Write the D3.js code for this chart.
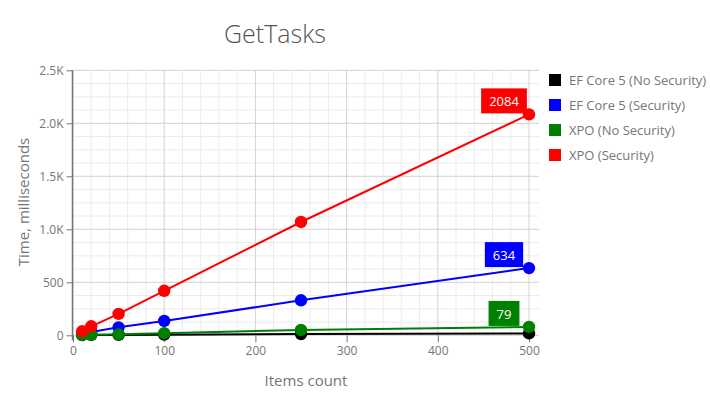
<!DOCTYPE html>
<html><head><meta charset="utf-8">
<script src="https://cdn.jsdelivr.net/npm/d3@7"></script>
<style>
body{margin:0;background:#fff;}
text{font-family:"Segoe UI","Open Sans",sans-serif;}
</style></head>
<body><svg id="c" width="710" height="420"></svg>
<script>
const itemCounts = [10, 20, 50, 100, 250, 500];
const seriesNames = ["EF Core 5 (No Security)", "EF Core 5 (Security)", "XPO (No Security)", "XPO (Security)"];
const seriesColors = ["#000000", "#0000ff", "#008000", "#ff0000"];
const efNoSec = [2, 3, 4, 6, 12, 18];
const efSec = [18, 32, 75, 135, 330, 634];
const xpoNoSec = [3, 5, 9, 20, 50, 79];
const xpoSec = [38, 85, 202, 420, 1069, 2084];
const seriesValues = [efNoSec, efSec, xpoNoSec, xpoSec];
const labeledValues = [null, 634, 79, 2084];
const xTicks = [0, 100, 200, 300, 400, 500];
const yTicks = [0, 500, 1000, 1500, 2000, 2500];
const yTickLabels = ["0", "500", "1.0K", "1.5K", "2.0K", "2.5K"];

const svg = d3.select("#c");
const x = d3.scaleLinear().domain([0, 500]).range([73, 529]);
const y = d3.scaleLinear().domain([0, 2500]).range([335.3, 70.3]);
const plotL = 72.5, plotR = 539, plotT = 70.3, plotB = 335.3;
const grey = "#767676";

// minor grid
const g = svg.append("g");
d3.range(0, 541, 20).filter(v => v % 100 !== 0 && x(v) <= plotR).forEach(v => {
  g.append("line").attr("x1", x(v)).attr("x2", x(v)).attr("y1", plotT).attr("y2", plotB).attr("stroke", "#ececec");
});
d3.range(0, 2501, 125).filter(v => v % 500 !== 0).forEach(v => {
  g.append("line").attr("x1", plotL).attr("x2", plotR).attr("y1", y(v)).attr("y2", y(v)).attr("stroke", "#ececec");
});
// major grid
xTicks.forEach(v => {
  g.append("line").attr("x1", x(v)).attr("x2", x(v)).attr("y1", plotT).attr("y2", plotB).attr("stroke", "#d3d3d3");
});
yTicks.forEach(v => {
  g.append("line").attr("x1", plotL).attr("x2", plotR).attr("y1", y(v)).attr("y2", y(v)).attr("stroke", "#d3d3d3");
});

// y axis
const yAxis = d3.axisLeft(y).tickValues(yTicks).tickFormat((d, i) => yTickLabels[i]).tickSize(6).tickPadding(3);
const ya = svg.append("g").attr("transform", `translate(${plotL},0)`).call(yAxis);
ya.select(".domain").attr("stroke", grey).attr("stroke-width", 1.5).attr("d", `M0,${plotT}V${plotB + 5}`);
ya.selectAll(".tick line").attr("stroke", grey);
ya.selectAll(".tick text").attr("fill", grey).style("font-size", "12px").attr("font-family", null);

// x axis
const xAxis = d3.axisBottom(x).tickValues(xTicks).tickSize(7).tickPadding(4);
const xa = svg.append("g").attr("transform", `translate(0,${plotB})`).call(xAxis);
xa.select(".domain").remove();
xa.selectAll(".tick line").attr("stroke", grey);
xa.selectAll(".tick text").attr("fill", grey).style("font-size", "12px").attr("font-family", null);

// series
const line = d3.line().x((d, i) => x(itemCounts[i])).y(d => y(d));
seriesValues.forEach((vals, s) => {
  svg.append("path").datum(vals).attr("d", line).attr("fill", "none").attr("stroke", seriesColors[s]).attr("stroke-width", 2);
  svg.append("g").selectAll("circle").data(vals).join("circle")
    .attr("cx", (d, i) => x(itemCounts[i])).attr("cy", d => y(d)).attr("r", 6.2)
    .attr("fill", seriesColors[s]);
});

// value labels
seriesValues.forEach((vals, s) => {
  if (labeledValues[s] === null) return;
  const last = vals.length - 1;
  const px = x(itemCounts[last]), py = y(vals[last]);
  const cx = px - 25;
  const lg = svg.append("g");
  const t = lg.append("text").attr("x", cx).attr("y", py - 13).attr("text-anchor", "middle")
    .attr("dominant-baseline", "central").attr("fill", "#fff").style("font-size", "13px").text(labeledValues[s]);
  const w = t.node().getComputedTextLength() + 16;
  lg.insert("rect", "text").attr("x", cx - w / 2).attr("y", py - 26).attr("width", w).attr("height", 25)
    .attr("fill", seriesColors[s]);
});

// title
svg.append("text").attr("x", 275).attr("y", 43).attr("text-anchor", "middle")
  .attr("fill", "#555").style("font-size", "25px").style("font-weight", 300).text("GetTasks");

// axis titles
svg.append("text").attr("transform", "translate(29,202) rotate(-90)").attr("text-anchor", "middle")
  .attr("fill", grey).style("font-size", "15px").text("Time, milliseconds");
svg.append("text").attr("x", 306).attr("y", 386).attr("text-anchor", "middle")
  .attr("fill", grey).style("font-size", "15px").text("Items count");

// legend
seriesNames.forEach((n, i) => {
  const ly = 74 + i * 25;
  svg.append("rect").attr("x", 549).attr("y", ly).attr("width", 12).attr("height", 12).attr("fill", seriesColors[i]);
  svg.append("text").attr("x", 569).attr("y", ly + 6).attr("dominant-baseline", "central")
    .attr("fill", grey).style("font-size", "13px").text(n);
});
</script></body></html>
